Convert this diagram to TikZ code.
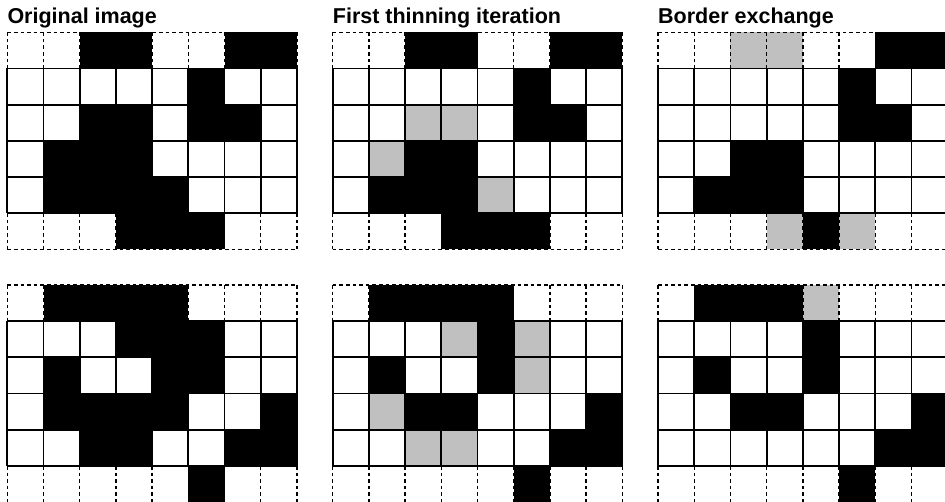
\documentclass[tikz,border=0pt]{standalone}
\usepackage{fontspec}
\setmainfont{Liberation Sans}
\usepackage{tikz}
\definecolor{cellgray}{RGB}{192,192,192}

\newcommand{\cellsz}{36.2}
% one 8x6 block: #1,#2 = top left corner, #3 = rows (0 white, 1 black, 2 gray)
\newcommand{\cellgrid}[3]{%
  \begin{scope}[shift={(#1,#2)}]
    \foreach \cells [count=\rw from 0] in {#3} {
      \foreach \v [count=\cl from 0] in \cells {
        \ifnum\v=1 \fill[black] (\cl*\cellsz,\rw*\cellsz) rectangle ++(\cellsz,\cellsz);\fi
        \ifnum\v=2 \fill[cellgray] (\cl*\cellsz,\rw*\cellsz) rectangle ++(\cellsz,\cellsz);\fi
      }
    }
    % inner rows
    \foreach \rw in {1,...,5}
      \draw[solidline] (0,\rw*\cellsz) -- (8*\cellsz,\rw*\cellsz);
    \foreach \cl in {0,...,8} {
      \draw[solidline] (\cl*\cellsz,\cellsz) -- (\cl*\cellsz,5*\cellsz);
      \draw[haloline] (\cl*\cellsz,0) -- (\cl*\cellsz,\cellsz);
      \draw[haloline] (\cl*\cellsz,5*\cellsz) -- (\cl*\cellsz,6*\cellsz);
    }
    % halo rows
    \draw[haloline] (0,0) -- (8*\cellsz,0);
    \draw[haloline] (0,6*\cellsz) -- (8*\cellsz,6*\cellsz);
  \end{scope}
}

\begin{document}
\begin{tikzpicture}[
  x=1pt, y=-1pt,
  solidline/.style={black, line width=1.8pt},
  haloline/.style={black, line width=1.4pt, dash pattern=on 3.6pt off 3pt},
  title/.style={font=\fontsize{21.5}{25}\selectfont\bfseries, anchor=base west, inner sep=0pt},
]
\useasboundingbox (0,0) rectangle (945,502);
\clip (0,0) rectangle (945,502);

% titles
\node[title] (t1) at (7.3,23.3)   {Original image};
\node[title] (t2) at (332.7,23.3) {First thinning iteration};
\node[title] (t3) at (658,23.3)   {Border exchange};

% upper blocks
\cellgrid{7.3}{32.3}{{0,0,1,1,0,0,1,1},{0,0,0,0,0,1,0,0},{0,0,1,1,0,1,1,0},
  {0,1,1,1,0,0,0,0},{0,1,1,1,1,0,0,0},{0,0,0,1,1,1,0,0}}
\cellgrid{332.7}{32.3}{{0,0,1,1,0,0,1,1},{0,0,0,0,0,1,0,0},{0,0,2,2,0,1,1,0},
  {0,2,1,1,0,0,0,0},{0,1,1,1,2,0,0,0},{0,0,0,1,1,1,0,0}}
\cellgrid{658}{32.3}{{0,0,2,2,0,0,1,1},{0,0,0,0,0,1,0,0},{0,0,0,0,0,1,1,0},
  {0,0,1,1,0,0,0,0},{0,1,1,1,0,0,0,0},{0,0,0,2,1,2,0,0}}

% lower blocks
\cellgrid{7.3}{285}{{0,1,1,1,1,0,0,0},{0,0,0,1,1,1,0,0},{0,1,0,0,1,1,0,0},
  {0,1,1,1,1,0,0,1},{0,0,1,1,0,0,1,1},{0,0,0,0,0,1,0,0}}
\cellgrid{332.7}{285}{{0,1,1,1,1,0,0,0},{0,0,0,2,1,2,0,0},{0,1,0,0,1,2,0,0},
  {0,2,1,1,0,0,0,1},{0,0,2,2,0,0,1,1},{0,0,0,0,0,1,0,0}}
\cellgrid{658}{285}{{0,1,1,1,2,0,0,0},{0,0,0,0,1,0,0,0},{0,1,0,0,1,0,0,0},
  {0,0,1,1,0,0,0,1},{0,0,0,0,0,0,1,1},{0,0,0,0,0,1,0,0}}

\end{tikzpicture}
\end{document}
